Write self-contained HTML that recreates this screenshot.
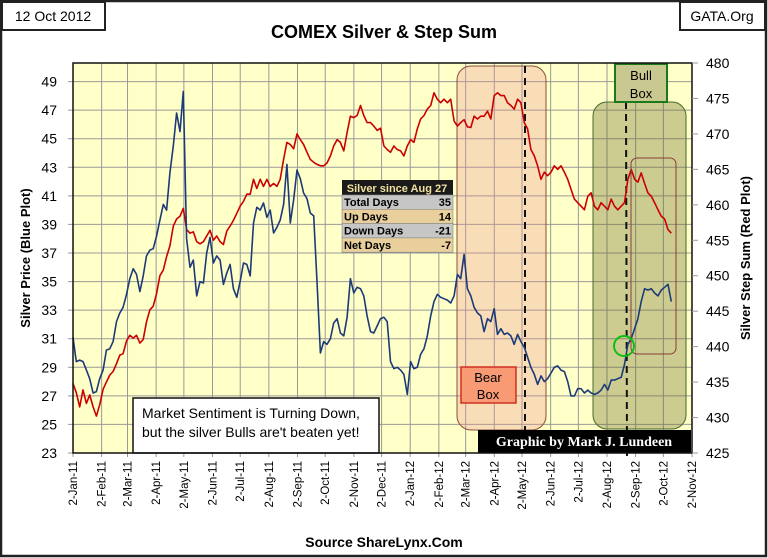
<!DOCTYPE html>
<html><head><meta charset="utf-8"><style>
html,body{margin:0;padding:0;background:#fff}
svg{display:block;font-family:"Liberation Sans",Arial,sans-serif}
</style></head><body>
<svg id="chart" width="768" height="558" viewBox="0 0 768 558">
<rect x="1" y="1" width="765" height="555" fill="#fff" stroke="#222" stroke-width="2.5"/>
<rect x="2" y="2" width="103" height="28" fill="#fff" stroke="#222" stroke-width="2"/>
<text x="53" y="21" font-size="14" text-anchor="middle">12 Oct 2012</text>
<rect x="680" y="2" width="85" height="28" fill="#fff" stroke="#222" stroke-width="2"/>
<text x="722" y="21" font-size="14" text-anchor="middle">GATA.Org</text>
<text x="384" y="38" font-size="18" font-weight="bold" text-anchor="middle">COMEX Silver &amp; Step Sum</text>
<rect x="73" y="63" width="619" height="390" fill="#ffffc8"/>
<g id="grid"></g>
<g id="boxes"></g>
<g id="series"></g>
<g id="overlays"></g>
<rect x="73" y="63" width="619" height="390" fill="none" stroke="#111" stroke-width="1.5"/>
<g id="axes"></g>
<text transform="translate(30,258) rotate(-90)" font-size="13" font-weight="bold" text-anchor="middle">Silver Price (Blue Plot)</text>
<text transform="translate(750,258) rotate(-90)" font-size="13" font-weight="bold" text-anchor="middle">Silver Step Sum (Red Plot)</text>
<text x="384" y="547" font-size="14" font-weight="bold" text-anchor="middle">Source ShareLynx.Com</text>
</svg>
<script>
const monthLabels = ["2-Jan-11","2-Feb-11","2-Mar-11","2-Apr-11","2-May-11","2-Jun-11","2-Jul-11","2-Aug-11","2-Sep-11","2-Oct-11","2-Nov-11","2-Dec-11","2-Jan-12","2-Feb-12","2-Mar-12","2-Apr-12","2-May-12","2-Jun-12","2-Jul-12","2-Aug-12","2-Sep-12","2-Oct-12","2-Nov-12"];
const leftTicks = [23,25,27,29,31,33,35,37,39,41,43,45,47,49];
const rightTicks = [425,430,435,440,445,450,455,460,465,470,475,480];
const startDate = "2011-01-02";
const dayStep = 3.618;
const silverPrice = [31.1,29.4,29.5,29.4,28.8,28.2,27.2,27.3,28.2,28.8,30.2,30.3,30.8,32.2,32.8,33.2,34.1,35.2,35.9,35.5,34.3,35.4,36.8,37.2,37.3,38.2,39.3,40.4,40.0,42.6,44.5,46.8,45.5,48.3,38.0,36.0,36.5,34.0,35.0,34.9,37.0,38.1,36.3,36.8,36.5,34.8,35.6,36.2,34.5,33.9,35.0,36.3,36.2,35.4,39.1,40.2,40.0,40.5,39.5,40.0,38.4,38.8,39.3,40.4,43.2,39.1,40.7,42.8,42.2,41.2,40.8,39.8,39.6,35.0,30.0,30.8,30.6,31.0,32.1,32.4,31.4,31.2,32.5,35.2,34.2,34.6,34.5,34.0,32.6,31.5,31.4,31.9,32.4,32.5,
32.2,29.4,28.9,29.0,28.8,28.5,27.1,29.4,28.9,29.0,29.9,30.3,31.2,32.6,33.6,34.1,33.9,33.8,33.7,33.5,34.0,35.5,35.2,36.9,34.5,34.0,33.2,32.8,32.6,31.5,32.4,32.2,33.1,31.3,31.7,31.3,31.4,31.2,30.6,31.3,30.8,30.4,29.7,29.0,28.5,27.8,28.4,28.0,28.2,28.6,29.0,29.1,28.8,28.7,28.0,27.0,27.0,27.5,27.5,27.2,27.4,27.2,27.1,27.2,27.4,27.8,27.4,28.1,28.1,28.2,28.3,29.2,30.6,31.0,31.7,32.4,33.6,34.5,34.4,34.5,34.2,34.0,34.4,34.6,34.8,33.6];
const stepSum = [434.8,433.5,431.5,433.9,432.0,433.2,431.5,430.2,431.8,434.0,435.0,436.0,436.5,437.6,438.8,439.0,440.8,441.6,441.2,441.6,440.5,441.0,443.5,445.2,445.7,447.5,450.0,450.8,452.7,454.2,457.0,458.0,458.4,459.5,456.5,456.0,456.2,454.8,454.5,454.8,455.6,456.4,455.0,455.6,454.8,454.4,456.3,457.0,457.8,458.8,459.8,460.5,461.5,461.5,463.6,462.3,463.6,462.6,463.6,462.6,463.0,462.6,463.6,466.4,468.8,468.5,467.9,470.0,469.2,468.5,467.4,466.4,466.0,465.7,465.5,465.5,465.9,466.9,468.3,469.2,468.8,467.6,470.2,472.5,472.3,472.6,474.0,472.6,471.6,471.6,471.1,470.5,470.8,468.3,
467.8,467.4,468.3,467.8,467.6,466.9,468.3,469.2,468.8,470.7,472.1,472.6,473.5,474.0,475.8,474.9,474.4,474.9,474.4,474.9,471.8,471.1,471.6,472.0,471.0,470.9,472.5,472.1,472.5,472.5,473.2,472.1,475.4,475.8,475.4,475.4,474.4,474.0,473.5,474.9,474.4,471.6,470.7,467.8,466.9,465.5,463.6,464.6,464.1,464.6,465.5,465.0,465.5,464.6,463.6,462.2,460.8,460.3,459.8,459.3,461.2,461.7,459.8,459.3,460.3,459.8,459.3,460.8,459.8,459.3,459.8,460.3,463.6,465.0,463.6,463.2,464.5,463.0,461.7,461.2,460.3,459.3,458.4,458.0,456.5,456.0];
const tableRows = [["Total Days","35"],["Up Days","14"],["Down Days","-21"],["Net Days","-7"]];

const NS="http://www.w3.org/2000/svg";
const PL=73,PR=692,PT=63,PB=453;
const t0=Date.UTC(2011,0,2), tEnd=Date.UTC(2012,10,2);
const totalDays=(tEnd-t0)/86400000;
function xDay(d){return PL+(d/totalDays)*(PR-PL);}
function yLeft(v){return PB-(v-23)/(50.3-23)*(PB-PT);}
function yRight(v){return PB-(v-425)/(480-425)*(PB-PT);}
function mk(tag,attrs,parent){const e=document.createElementNS(NS,tag);for(const k in attrs)e.setAttribute(k,attrs[k]);parent.appendChild(e);return e;}
const grid=document.getElementById('grid'),axes=document.getElementById('axes'),boxes=document.getElementById('boxes'),series=document.getElementById('series'),ov=document.getElementById('overlays');
const mNames={Jan:0,Feb:1,Mar:2,Apr:3,May:4,Jun:5,Jul:6,Aug:7,Sep:8,Oct:9,Nov:10,Dec:11};
function labelDay(l){const p=l.split('-');return (Date.UTC(2000+(+p[2]),mNames[p[1]],+p[0])-t0)/86400000;}
monthLabels.forEach(l=>{
  const x=xDay(labelDay(l));
  const g=mk('line',{x1:x,x2:x,y1:PT,y2:PB+4,stroke:'#999','stroke-width':1},grid);
  
  
  const t=mk('text',{transform:`translate(${x+4},${PB+8}) rotate(-90)`,'font-size':11.5,'text-anchor':'end'},axes);
  t.textContent=l;
  
  
});
leftTicks.forEach(v=>{
  const y=yLeft(v);
  const g=mk('line',{x1:PL-5,x2:PR,y1:y,y2:y,stroke:'#999','stroke-width':1},grid);
  
  
  const t=mk('text',{x:PL-16,y:y+5,'font-size':14,'text-anchor':'end'},axes);
  t.textContent=v;
  
  
});
rightTicks.forEach(v=>{
  const y=yRight(v);
  const g=mk('line',{x1:PR,x2:PR+6,y1:y,y2:y,stroke:'#999','stroke-width':1},axes);
  
  
  const t=mk('text',{x:706,y:y+5,'font-size':14},axes);
  t.textContent=v;
  
  
});
let e;
e=mk('rect',{x:457,y:66,width:89,height:364,rx:14,fill:'rgba(232,150,150,0.32)',stroke:'#8a5040','stroke-width':1},boxes);


e=mk('rect',{x:593,y:102,width:93,height:327,rx:14,fill:'rgba(110,110,40,0.35)',stroke:'#4a6a2a','stroke-width':1},boxes);


e=mk('line',{x1:525,x2:525,y1:66,y2:430,stroke:'#111','stroke-width':2,'stroke-dasharray':'7,5'},boxes);


e=mk('line',{x1:626,x2:627,y1:102,y2:456,stroke:'#111','stroke-width':2,'stroke-dasharray':'7,5'},boxes);


function pathFor(arr,yf){return arr.map((v,i)=>(i?'L':'M')+xDay(i*dayStep).toFixed(1)+','+yf(v).toFixed(1)).join('');}
e=mk('path',{d:pathFor(stepSum,yRight),fill:'none',stroke:'#cc0000','stroke-width':1.6,'stroke-linejoin':'round'},series);


e=mk('path',{d:pathFor(silverPrice,yLeft),fill:'none',stroke:'#1c3a78','stroke-width':1.6,'stroke-linejoin':'round'},series);


e=mk('rect',{x:631,y:158,width:45,height:196,rx:6,fill:'none',stroke:'#8a3a3a','stroke-width':1},ov);


e=mk('circle',{cx:624,cy:346,r:10,fill:'none',stroke:'#10c010','stroke-width':2},ov);


e=mk('rect',{x:461,y:367,width:55,height:36,fill:'#f89a74',stroke:'#d03020','stroke-width':1.5},ov);


e=mk('text',{x:488,y:382,'font-size':13,'text-anchor':'middle'},ov);e.textContent='Bear';


e=mk('text',{x:488,y:399,'font-size':13,'text-anchor':'middle'},ov);e.textContent='Box';


e=mk('rect',{x:615,y:64,width:52,height:38,fill:'#c9c890',stroke:'#1a7a1a','stroke-width':2},ov);


e=mk('text',{x:641,y:80,'font-size':13,'text-anchor':'middle'},ov);e.textContent='Bull';


e=mk('text',{x:641,y:98,'font-size':13,'text-anchor':'middle'},ov);e.textContent='Box';


e=mk('rect',{x:342,y:180,width:111,height:15,fill:'#1a1a1a'},ov);


e=mk('text',{x:397,y:192,'font-size':11,'font-weight':'bold','text-anchor':'middle',fill:'#f0e0a0'},ov);e.textContent='Silver since Aug 27';


tableRows.forEach((r,i)=>{
  const y=195+i*14.3;
  const rr=mk('rect',{x:342,y:y,width:111,height:14.3,fill:i%2?'#e9cf9c':'#c6c6c6',stroke:'#888','stroke-width':0.6},ov);
  
  
  const a=mk('text',{x:344,y:y+11,'font-size':11,'font-weight':'bold'},ov);a.textContent=r[0];
  
  
  const b=mk('text',{x:451,y:y+11,'font-size':11,'font-weight':'bold','text-anchor':'end'},ov);b.textContent=r[1];
  
  
});
e=mk('rect',{x:133,y:398,width:246,height:55,fill:'#fff',stroke:'#111','stroke-width':1.5},ov);


e=mk('text',{x:142,y:418,'font-size':14},ov);e.textContent='Market Sentiment is Turning Down,';


e=mk('text',{x:142,y:437,'font-size':14},ov);e.textContent="but the silver Bulls are't beaten yet!";


e=mk('rect',{x:478,y:430,width:213,height:23,fill:'#000'},ov);


e=mk('text',{x:584,y:446,'font-size':14,'font-weight':'bold','text-anchor':'middle',fill:'#fff','font-family':'"Liberation Serif",serif'},ov);e.textContent='Graphic by Mark J. Lundeen';


</script>
</body></html>
